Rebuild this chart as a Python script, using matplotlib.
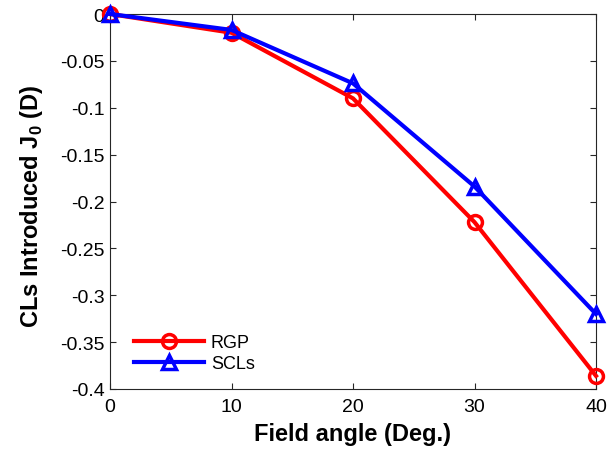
import matplotlib
matplotlib.use("Agg")
import matplotlib.pyplot as plt

plt.rcParams["font.family"] = ["Liberation Sans", "DejaVu Sans"]
plt.rcParams["mathtext.fontset"] = "custom"
plt.rcParams["mathtext.bf"] = "Liberation Sans:bold"
plt.rcParams["mathtext.rm"] = "Liberation Sans"

angles = [0, 10, 20, 30, 40]
rgp = [0, -0.02, -0.09, -0.222, -0.386]
scls = [0, -0.017, -0.074, -0.184, -0.32]
xticks = [0, 10, 20, 30, 40]
yticks = [0, -0.05, -0.1, -0.15, -0.2, -0.25, -0.3, -0.35, -0.4]
ytick_labels = ["0", "-0.05", "-0.1", "-0.15", "-0.2", "-0.25", "-0.3", "-0.35", "-0.4"]

fig = plt.figure(figsize=(6.12, 4.52), dpi=100)
ax = fig.add_axes([110 / 612, 1 - 390 / 452, 486 / 612, 375 / 452])

ax.plot(angles, rgp, "-o", color="#ff0000", lw=3, ms=10, mew=2.5,
        mfc="none", label="RGP", clip_on=False, zorder=3)
ax.plot(angles, scls, "-^", color="#0000ff", lw=3, ms=10.5, mew=2.5,
        mfc="none", label="SCLs", clip_on=False, zorder=4)

ax.set_xlim(0, 40)
ax.set_ylim(-0.4, 0)
ax.set_xticks(xticks)
ax.set_yticks(yticks)
ax.set_yticklabels(ytick_labels)
ax.tick_params(direction="in", top=True, right=True, labelsize=14,
               length=4, width=0.8, colors="#262626", labelcolor="black")
ax.tick_params(axis="x", pad=6.5)
ax.tick_params(axis="y", pad=4)
for s in ax.spines.values():
    s.set_color("#262626")
    s.set_linewidth(0.8)

ax.set_xlabel("Field angle (Deg.)", fontsize=17, fontweight="bold", va="center")
ax.xaxis.set_label_coords(0.5, -0.12)
ax.set_ylabel("CLs Introduced J$_\\mathbf{0}$ (D)", fontsize=17,
              fontweight="bold", va="center")
ax.yaxis.set_label_coords(-0.162, 0.49)

ax.legend(loc="upper left", bbox_to_anchor=(0.035, 0.166), frameon=False,
          fontsize=13, handlelength=3.85, handletextpad=0.4, labelspacing=0.22,
          borderaxespad=0)

fig.savefig("out.png", dpi=100, facecolor="white")
